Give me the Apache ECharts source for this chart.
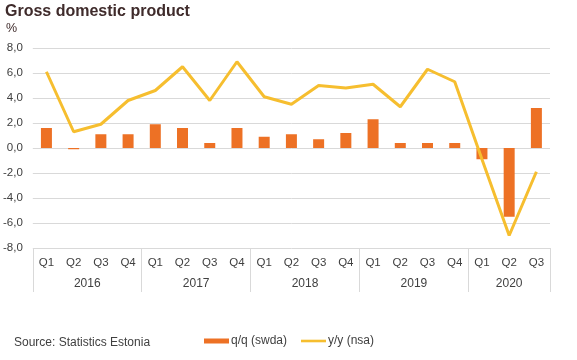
<!DOCTYPE html>
<html><head><meta charset="utf-8">
<script src="https://cdn.jsdelivr.net/npm/echarts@6/dist/echarts.min.js"></script>
<style>html,body{margin:0;padding:0;background:#fff}#c{width:577px;height:360px}</style>
</head><body><div id="c"></div>
<script>
const quarters = ['Q1','Q2','Q3','Q4','Q1','Q2','Q3','Q4','Q1','Q2','Q3','Q4','Q1','Q2','Q3','Q4','Q1','Q2','Q3'];
const years = ['2016','2017','2018','2019','2020'];
const quartersPerYear = [4,4,4,4,3];
const qq = [1.6,-0.1,1.1,1.1,1.9,1.6,0.4,1.6,0.9,1.1,0.7,1.2,2.3,0.4,0.4,0.4,-0.9,-5.5,3.2];
const yy = [6.1,1.3,1.9,3.8,4.6,6.5,3.8,6.9,4.1,3.5,5.0,4.8,5.1,3.3,6.3,5.3,-0.9,-7.0,-1.9];

const txt = '#404040';
const gridC = '#d9d9d9';
const font = '"Liberation Sans", Arial, sans-serif';

const yearMid = {};
let acc = 0;
years.forEach((y,i)=>{ yearMid[(acc + quartersPerYear[i]/2).toFixed(1)] = y; acc += quartersPerYear[i]; });
const total = acc;

const chart = echarts.init(document.getElementById('c'));
chart.setOption({
  animation:false,
  textStyle:{fontFamily:font},
  title:[
    {text:'Gross domestic product', left:5, top:4, padding:0, textStyle:{fontSize:16, fontWeight:'bold', color:'#3f2b2b', fontFamily:font}},
    {text:'%', left:6, top:22, padding:0, textStyle:{fontSize:12.5, fontWeight:'normal', color:'#3f2b2b', fontFamily:font}},
    {text:'Source: Statistics Estonia', left:14, top:337, padding:0, textStyle:{fontSize:12, fontWeight:'normal', color:txt, fontFamily:font}}
  ],
  legend:{
    left:204, top:335, padding:0, itemWidth:25, itemHeight:5, itemGap:14,
    textStyle:{fontSize:12, color:txt, fontFamily:font, padding:[0,0,0,-3]},
    data:[
      {name:'q/q (swda)', icon:'rect'},
      {name:'y/y (nsa)', icon:'path://M0,0M0,1.2H25V3.8H0Z M0,5'}
    ]
  },
  grid:{left:32, right:27, top:48, bottom:112},
  xAxis:[
    {type:'category', data:quarters, axisLine:{show:false}, axisTick:{show:false},
     axisLabel:{color:txt, fontSize:11.5, margin:9, interval:0}},
    {type:'value', min:0, max:total, interval:4, position:'bottom',
     axisLine:{show:false}, axisTick:{show:true, length:44, lineStyle:{color:gridC}},
     axisLabel:{show:false}, splitLine:{show:false}},
    {type:'value', min:0, max:total, interval:0.5, position:'bottom',
     axisLine:{show:false}, axisTick:{show:false}, splitLine:{show:false},
     axisLabel:{color:txt, fontSize:12, margin:30, showMinLabel:true, showMaxLabel:true,
       formatter:v=> yearMid[v.toFixed(1)] || ''}}
  ],
  yAxis:{type:'value', min:-8, max:8, interval:2,
    axisLine:{show:false}, axisTick:{show:false},
    splitLine:{lineStyle:{color:gridC, width:1}},
    axisLabel:{color:txt, fontSize:11.5, margin:10, formatter:v=>v.toFixed(1).replace('.',',')}},
  series:[
    {name:'q/q (swda)', type:'bar', data:qq, barWidth:11, itemStyle:{color:'#ed7125'}, xAxisIndex:0},
    {name:'y/y (nsa)', type:'line', data:yy, showSymbol:false, symbol:'none', xAxisIndex:0,
     lineStyle:{color:'#f6be2f', width:3}, itemStyle:{color:'#f6be2f'}}
  ]
});
</script></body></html>
